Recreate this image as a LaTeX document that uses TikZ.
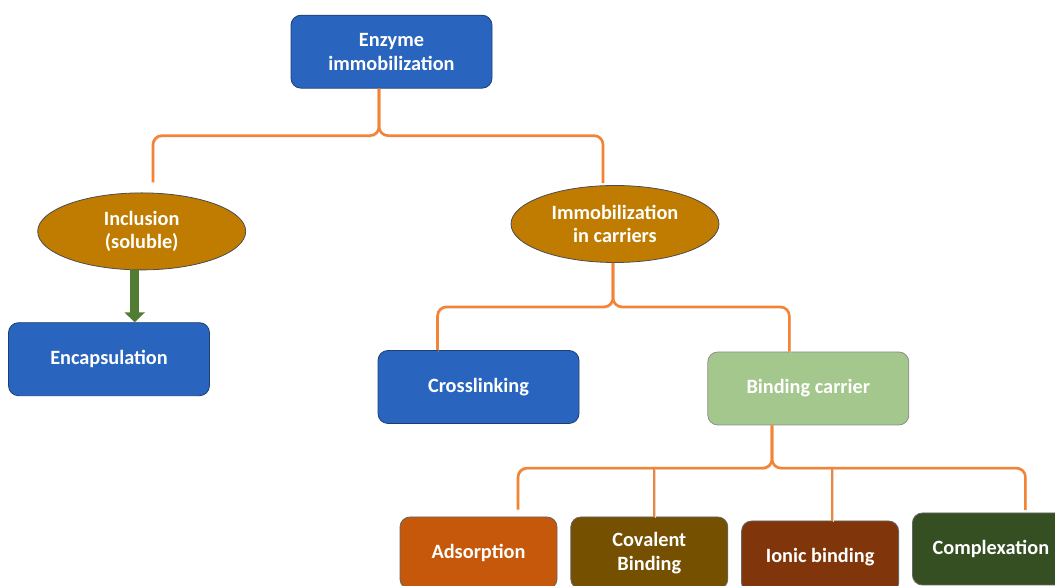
\documentclass[tikz,border=0pt]{standalone}
\usepackage{fontspec}
\setmainfont{Carlito}
\usetikzlibrary{positioning,chains,shapes.geometric,arrows.meta}

\definecolor{boxblue}{RGB}{41,101,190}
\definecolor{boxblueline}{RGB}{30,62,115}
\definecolor{gold}{RGB}{191,124,0}
\definecolor{branchorange}{RGB}{244,131,52}
\definecolor{arrowgreen}{RGB}{80,125,50}
\definecolor{carriergreen}{RGB}{163,199,140}
\definecolor{adsorb}{RGB}{197,88,10}
\definecolor{covalent}{RGB}{117,80,0}
\definecolor{ionic}{RGB}{128,54,10}
\definecolor{complex}{RGB}{53,78,34}

\begin{document}
\begin{tikzpicture}
  [x=1pt, y=1pt,
   font=\fontsize{20.3}{23.8}\selectfont\bfseries,
   block/.style={
     rectangle, rounded corners=10pt,
     draw=boxblueline, line width=0.8pt,
     fill=boxblue, text=white,
     minimum width=201pt, minimum height=73pt,
     align=center},
   method/.style={
     ellipse, draw=black!70, line width=0.8pt,
     fill=gold, text=white,
     minimum width=208pt, minimum height=77pt,
     inner sep=0pt, align=center},
   leaf/.style={
     block, draw=black!60,
     minimum width=157pt, minimum height=72pt,
     on chain},
   branch/.style={
     draw=branchorange, line width=2.6pt, rounded corners=9pt,
     preaction={draw=black!15, transform canvas={shift={(1pt,-1.5pt)}}}},
   node distance=13pt,
   start chain=going right]
  \useasboundingbox (0,0) rectangle (1055,586);

  % upper levels
  \node[block] (enzyme) at (391.5,534.3) {Enzyme\\immobilization};
  \node[method] (inclusion) at (141.7,354.6) {Inclusion\\(soluble)};
  \node[method] (carriers) at (615,362) {Immobilization\\in carriers};
  \node[block, below=52pt of inclusion, xshift=-32.7pt] (encapsulation) {Encapsulation};
  \node[block] (crosslinking) at (478.5,199) {Crosslinking};
  \node[block, fill=carriergreen, draw=black!45,
        right=128pt of crosslinking, yshift=-1.5pt] (binding) {Binding carrier};

  % bottom row
  \node[leaf, fill=adsorb] (adsorption) at (478.5,33) {Adsorption};
  \node[leaf, fill=covalent] (covalent) {Covalent\\Binding};
  \node[leaf, fill=ionic, yshift=-4pt] (ionic) {Ionic binding};
  \node[leaf, fill=complex, yshift=8pt] (complexation) {Complexation};

  % brace points
  \coordinate (bar1) at ([xshift=-12.5pt,yshift=-47pt]enzyme.south);
  \coordinate (end1a) at ([xshift=11.3pt,yshift=10pt]inclusion.north);
  \coordinate (end1b) at ([xshift=-12pt,yshift=2pt]carriers.north);
  \coordinate (bar2) at ([xshift=-2pt,yshift=-44pt]carriers.south);
  \coordinate (end2a) at ([xshift=-41pt]crosslinking.north);
  \coordinate (end2b) at ([xshift=-19pt]binding.north);
  \coordinate (bar3) at ([xshift=-36.3pt,yshift=-42.7pt]binding.south);
  \coordinate (end3a) at ([xshift=39.5pt,yshift=7pt]adsorption.north);
  \coordinate (end3b) at ([xshift=34.5pt,yshift=2.7pt]complexation.north);
  \coordinate (stub3a) at ([xshift=4.5pt]covalent.north);
  \coordinate (stub3b) at ([xshift=12pt]ionic.north);

  % braces
  \foreach \e in {end1a,end1b}
    \draw[branch] (\e) |- (bar1) -- (bar1 |- enzyme.south);
  \foreach \e in {end2a,end2b}
    \draw[branch] (\e) |- (bar2) -- (bar2 |- carriers.south);
  \foreach \e in {end3a,end3b}
    \draw[branch] (\e) |- (bar3) -- (bar3 |- binding.south);
  \foreach \s in {stub3a,stub3b}
    \draw[branch] (\s) -- (\s |- bar3);

  % block arrow
  \draw[arrowgreen, line width=9pt, -{Triangle[width=20pt,length=10pt]}]
    ([xshift=-7pt]inclusion.south) -- ([xshift=25.7pt]encapsulation.north);
\end{tikzpicture}
\end{document}
